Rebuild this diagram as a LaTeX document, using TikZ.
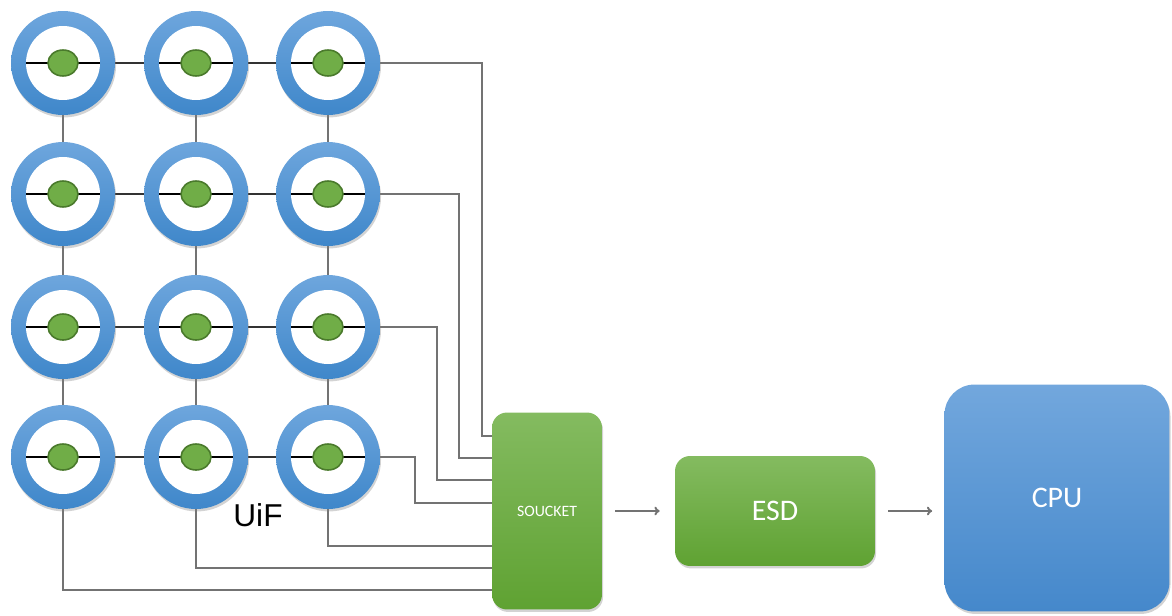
\documentclass[tikz,border=0pt]{standalone}
\usepackage{fontspec}
\newfontfamily\calibri{Carlito}
\newfontfamily\arial{Liberation Sans}
\usetikzlibrary{shadows,backgrounds,arrows.meta}

\definecolor{ringtop}{HTML}{6EA6DD}
\definecolor{ringbot}{HTML}{3F87CA}
\definecolor{dotfill}{HTML}{70AD47}
\definecolor{dotedge}{HTML}{4A7A2C}
\definecolor{socktop}{HTML}{84BB60}
\definecolor{sockbot}{HTML}{5FA232}
\definecolor{cputop}{HTML}{72A7DD}
\definecolor{cpubot}{HTML}{4588CB}

\begin{document}
\begin{tikzpicture}[
                    x=0.02cm, y=-0.02cm,
                    ring/.style={circle, inner sep=0pt, minimum size=2.08cm, top color=ringtop, bottom color=ringbot, draw=none,
                        drop shadow={shadow xshift=0.6pt, shadow yshift=-1.4pt, opacity=0.35},
                        path picture={
                            \fill[white] (path picture bounding box.center) circle (0.74cm);
                            \draw[black, line width=0.8pt] ([xshift=-0.74cm]path picture bounding box.center) -- ([xshift=0.74cm]path picture bounding box.center);
                            \draw[fill=dotfill, draw=dotedge, line width=0.9pt] (path picture bounding box.center) ellipse (0.3cm and 0.26cm);
                        }},
                    greenbox/.style={rectangle, rounded corners=0.3cm, top color=socktop, bottom color=sockbot, draw=none, text=white, font=\calibri,
                        drop shadow={shadow xshift=0.6pt, shadow yshift=-1.4pt, opacity=0.35}},
                    bluebox/.style={rectangle, rounded corners=0.6cm, top color=cputop, bottom color=cpubot, draw=none, text=white, font=\calibri,
                        drop shadow={shadow xshift=0.6pt, shadow yshift=-1.4pt, opacity=0.35}},
                    link/.style={draw=black!80, line width=0.8pt},
                    wire/.style={draw=black!55, line width=0.8pt},
                    flow/.style={draw=black!55, line width=1.1pt, -{To[length=3pt, width=5pt]}}
                ]
                \useasboundingbox (0,0) rectangle (1172,615);

                % La grille d'anneaux
                \node[ring] (r11) at (63,63) {};
                \node[ring] (r12) at (196,63) {};
                \node[ring] (r13) at (328,63) {};
                \node[ring] (r21) at (63,194) {};
                \node[ring] (r22) at (196,194) {};
                \node[ring] (r23) at (328,194) {};
                \node[ring] (r31) at (63,327) {};
                \node[ring] (r32) at (196,327) {};
                \node[ring] (r33) at (328,327) {};
                \node[ring] (r41) at (63,457) {};
                \node[ring] (r42) at (196,457) {};
                \node[ring] (r43) at (328,457) {};

                \node[font=\arial\fontsize{18}{20}\selectfont] (uif) at (258,515) {UiF};

                % Les blocs
                \node[greenbox, minimum width=2.2cm, minimum height=3.94cm, font=\calibri\fontsize{9}{10}\selectfont] (sock) at (547,511) {SOUCKET};
                \node[greenbox, minimum width=4cm, minimum height=2.2cm, font=\calibri\fontsize{17}{19}\selectfont] (esd) at (775,511) {ESD};
                \node[bluebox, minimum width=4.5cm, minimum height=4.54cm, font=\calibri\fontsize{17}{19}\selectfont] (cpu) at (1057,498) {CPU};

                \coordinate (k1) at (482,436);
                \coordinate (k2) at (459,458);
                \coordinate (k3) at (437,480);
                \coordinate (k4) at (415,503);
                \coordinate (p5) at (492,546);
                \coordinate (p6) at (492,568);
                \coordinate (p7) at (492,590);

                % Les liaisons
                \begin{scope}[on background layer]
                    \draw[link] (r11.center) -- (r13.center);
                    \draw[link] (r21.center) -- (r23.center);
                    \draw[link] (r31.center) -- (r33.center);
                    \draw[link] (r41.center) -- (r43.center);
                    \draw[wire] (r11.center) -- (r41.center);
                    \draw[wire] (r12.center) -- (r42.center);
                    \draw[wire] (r13.center) -- (r43.center);
                    \draw[wire] (r13.center) -| (k1) -- (k1 -| sock.west);
                    \draw[wire] (r23.center) -| (k2) -- (k2 -| sock.west);
                    \draw[wire] (r33.center) -| (k3) -- (k3 -| sock.west);
                    \draw[wire] (r43.center) -| (k4) -- (k4 -| sock.west);
                    \draw[wire] (r43.center) |- (p5);
                    \draw[wire] (r42.center) |- (p6);
                    \draw[wire] (r41.center) |- (p7);
                \end{scope}

                \draw[flow, shorten <=0.26cm, shorten >=0.3cm] (sock.east |- esd.west) -- (esd.west);
                \draw[flow, shorten <=0.26cm, shorten >=0.24cm] (esd.east) -- (esd.east -| cpu.west);

                \end{tikzpicture}
\end{document}
